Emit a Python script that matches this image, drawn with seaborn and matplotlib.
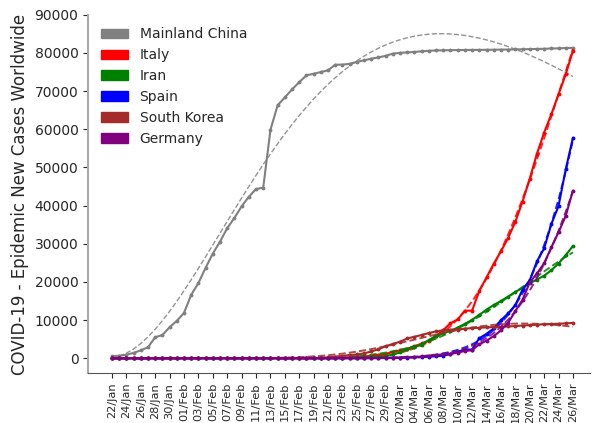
import numpy as np
import pandas as pd
import matplotlib
matplotlib.use("Agg")
import matplotlib.pyplot as plt
import matplotlib.patches as mpatches
import seaborn as sns

# Cumulative confirmed cases, 22 Jan - 26 Mar 2020
dates = pd.date_range("2020-01-22", "2020-03-26", freq="D")
date_labels = [d.strftime("%d/%b") for d in dates]

mainland_china = [
    547, 639, 916, 1399, 2062, 2863, 5494, 6070, 8124, 9783,
    11871, 16607, 19693, 23680, 27409, 30553, 34075, 36778, 39790, 42306,
    44327, 44699, 59832, 66292, 68347, 70446, 72364, 74139, 74546, 74999,
    75472, 76922, 76938, 77152, 77660, 78065, 78498, 78824, 79251, 79826,
    80026, 80151, 80271, 80422, 80573, 80652, 80699, 80735, 80757, 80785,
    80793, 80801, 80827, 80849, 80880, 80894, 80928, 80967, 81008, 81054,
    81093, 81171, 81218, 81285, 81340,
]
italy = [
    0, 0, 0, 0, 0, 0, 0, 0, 0, 2,
    2, 2, 2, 2, 2, 2, 3, 3, 3, 3,
    3, 3, 3, 3, 3, 3, 3, 3, 3, 3,
    20, 62, 155, 229, 322, 453, 655, 888, 1128, 1694,
    2036, 2502, 3089, 3858, 4636, 5883, 7375, 9172, 10149, 12462,
    12462, 17660, 21157, 24747, 27980, 31506, 35713, 41035, 47021, 53578,
    59138, 63927, 69176, 74386, 80589,
]
iran = [
    0, 0, 0, 0, 0, 0, 0, 0, 0, 0,
    0, 0, 0, 0, 0, 0, 0, 0, 0, 0,
    0, 0, 0, 0, 0, 0, 0, 0, 2, 5,
    18, 28, 43, 61, 95, 139, 245, 388, 593, 978,
    1501, 2336, 2922, 3513, 4747, 5823, 6566, 7161, 8042, 9000,
    10075, 11364, 12729, 13938, 14991, 16169, 17361, 18407, 19644, 20610,
    21638, 23049, 24811, 27017, 29406,
]
spain = [
    0, 0, 0, 0, 0, 0, 0, 0, 0, 0,
    1, 1, 1, 1, 1, 1, 1, 1, 2, 2,
    2, 2, 2, 2, 2, 2, 2, 2, 2, 2,
    2, 2, 2, 2, 6, 13, 15, 32, 45, 84,
    120, 165, 222, 259, 400, 500, 673, 1073, 1695, 2277,
    2277, 5232, 6391, 7798, 9942, 11748, 13910, 17963, 20410, 25374,
    28768, 35136, 39885, 49515, 57786,
]
south_korea = [
    1, 1, 2, 2, 3, 4, 4, 4, 4, 11,
    12, 15, 15, 16, 19, 23, 24, 24, 25, 27,
    28, 28, 28, 28, 28, 29, 30, 31, 31, 104,
    204, 433, 602, 833, 977, 1261, 1766, 2337, 3150, 3736,
    4335, 5186, 5621, 6088, 6593, 7041, 7314, 7478, 7513, 7755,
    7869, 7979, 8086, 8162, 8236, 8320, 8413, 8565, 8652, 8799,
    8897, 8961, 9037, 9137, 9241,
]
germany = [
    0, 0, 0, 0, 0, 1, 4, 4, 4, 5,
    8, 10, 12, 12, 12, 12, 13, 13, 14, 14,
    16, 16, 16, 16, 16, 16, 16, 16, 16, 16,
    16, 16, 16, 16, 17, 27, 46, 48, 79, 130,
    159, 196, 262, 482, 670, 799, 1040, 1176, 1457, 1908,
    2078, 3675, 4585, 5795, 7272, 9257, 12327, 15320, 19848, 22213,
    24873, 29056, 32986, 37323, 43938,
]

countries = ["Mainland China", "Italy", "Iran", "Spain", "South Korea", "Germany"]
series = [mainland_china, italy, iran, spain, south_korea, germany]
colors = ["gray", "red", "green", "blue", "brown", "purple"]


def fit_epidemic_curve(t, y):
    """Least-squares fit of y ~ a * t**b * exp(-c*t); returns fitted values."""
    y = np.asarray(y, float)
    lt = np.log(t)

    def scan(b_vals, c_vals):
        best = (np.inf, None, None)
        for b in b_vals:
            e = b * lt[None, :] - c_vals[:, None] * t[None, :]
            e -= e.max(axis=1, keepdims=True)
            g = np.exp(e)
            a = (g @ y) / (g * g).sum(axis=1)
            sse = ((a[:, None] * g - y[None, :]) ** 2).sum(axis=1)
            i = int(np.argmin(sse))
            if sse[i] < best[0]:
                best = (sse[i], b, c_vals[i])
        return best

    db, dc = 0.05, 0.002
    _, b0, c0 = scan(np.arange(0.05, 30, db), np.arange(-0.4, 0.6, dc))
    for _ in range(3):
        _, b0, c0 = scan(np.linspace(b0 - db, b0 + db, 41),
                         np.linspace(c0 - dc, c0 + dc, 41))
        db, dc = db / 10, dc / 10
    g = np.exp(b0 * lt - c0 * t)
    a = (g @ y) / (g @ g)
    return a * g


sns.set_style("ticks")
plt.rcParams["font.family"] = ["DejaVu Sans"]

fig = plt.figure(figsize=(5.92, 4.23), dpi=100)
ax = fig.add_axes([0.149, 0.118, 0.848, 0.847])

day = np.arange(len(dates))
for name, values, color in zip(countries, series, colors):
    df = pd.DataFrame({"day": day, "cases": values})
    df["trend"] = fit_epidemic_curve(day + 1.0, values)
    sns.lineplot(data=df, x="day", y="cases", color=color, marker="o",
                 markersize=2.8, markeredgewidth=0, linewidth=1.5, ax=ax)
    sns.lineplot(data=df, x="day", y="trend", color=color, ax=ax,
                 linestyle="--", alpha=0.85,
                 linewidth=1.0 if name == "Mainland China" else 1.4)

ax.set_xlim(-3.3, 66.4)
ax.set_ylim(-3900, 90000)
ax.set_yticks(np.arange(0, 90001, 10000))
ax.tick_params(axis="y", labelsize=10)
ax.set_xticks(day[::2])
ax.set_xticklabels(date_labels[::2], rotation=90, fontsize=8.2)
ax.set_xlabel("")
ax.set_ylabel("COVID-19 - Epidemic New Cases Worldwide", fontsize=12)

sns.despine(ax=ax)
ax.spines["left"].set_color("#aaaaaa")
ax.spines["left"].set_linewidth(1.5)
ax.spines["bottom"].set_color("#555555")

handles = [mpatches.Patch(color=c, label=n) for n, c in zip(countries, colors)]
ax.legend(handles=handles, loc="upper left", frameon=False, fontsize=10,
          labelspacing=0.5)

fig.savefig("out.png", dpi=100)
